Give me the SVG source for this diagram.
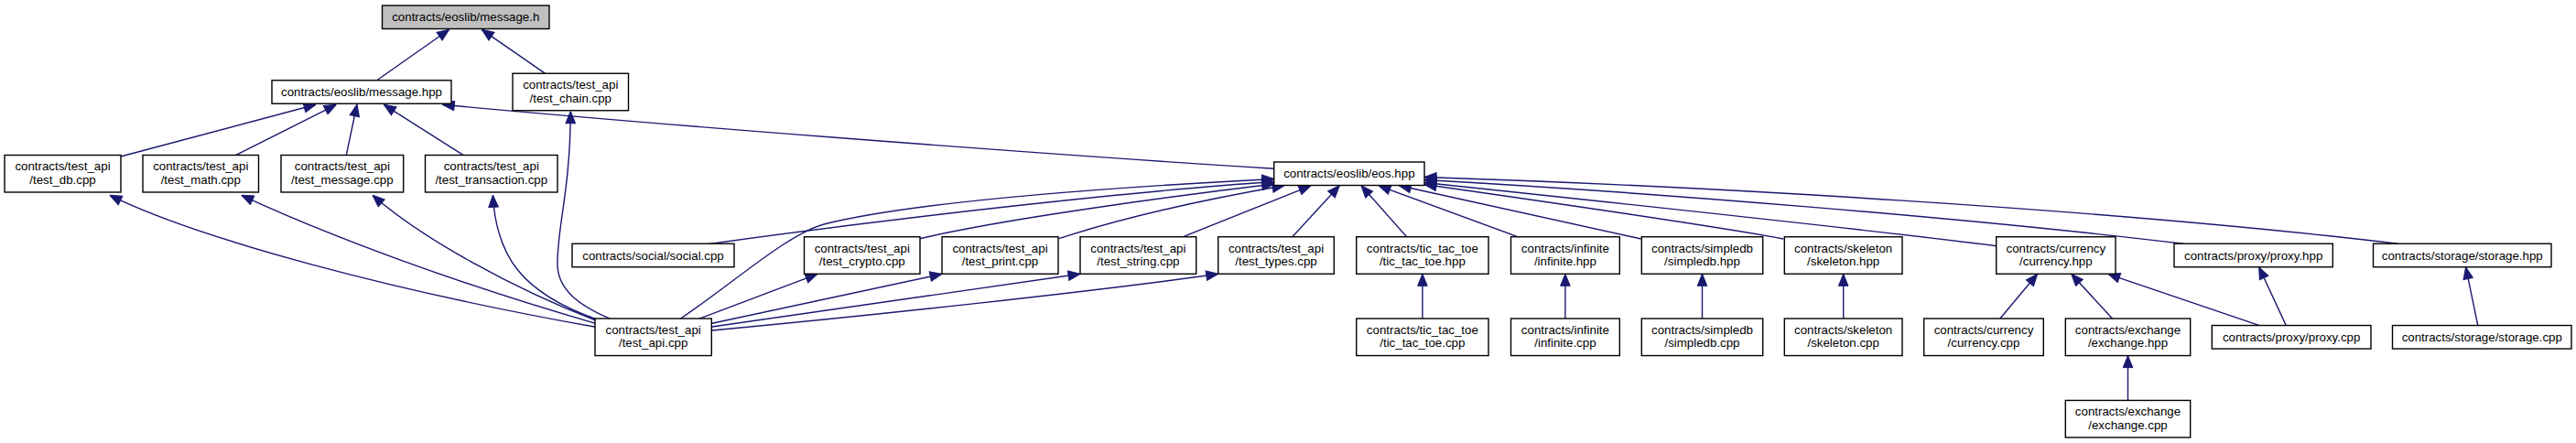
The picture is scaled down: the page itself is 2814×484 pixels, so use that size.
<svg xmlns="http://www.w3.org/2000/svg" width="2814" height="484" viewBox="0 0 2814 484">
<style>
.n rect{fill:#fff;stroke:#000;stroke-width:1.4}
.n text{font-family:"Liberation Sans",Arial,Helvetica,sans-serif;font-size:13.3px;text-anchor:middle;fill:#000}
.e path{fill:none;stroke:#191970;stroke-width:1.4;marker-start:url(#ah)}
</style>
<defs>
<marker id="ah" markerUnits="userSpaceOnUse" viewBox="0 -6 14 12" refX="0" refY="0" markerWidth="14" markerHeight="12" orient="auto">
<path d="M0,0 L13,-5.3 L13,5.3 Z" fill="#191970" stroke="#191970" stroke-width="1"/>
</marker>
</defs>
<rect width="2814" height="484" fill="#fff"/>
<g id="edges" class="e">
<path d="M490.7,32.3 L411.7,87.7"/>
<path d="M526.3,32.3 L595.7,80.3"/>
<path d="M345,114.3 L131.9,171"/>
<path d="M367.3,114.3 L257.8,169.3"/>
<path d="M390,114 L378.3,169.3"/>
<path d="M419.3,114.3 L506,169.3"/>
<path d="M483.3,114.3 C700,134.5 1100,166 1391.7,184.3"/>
<path d="M623.3,121.7 C623,210 608,250 609,290 C610,318 635,335 666.7,348.3"/>
<path d="M119.9,213.3 C220,262 430,318 650.5,357.3"/>
<path d="M263.8,213.3 C360,258 500,310 650.5,353.3"/>
<path d="M407,213.3 C460,260 560,315 652,350.5"/>
<path d="M538.4,213.3 C542,280 570,320 652,349"/>
<path d="M1391.7,195.5 C1150,208 980,225 900,245 C860,256 800,310 743.3,348.3"/>
<path d="M1391.7,198.5 C1250,208 1000,235 773.3,266.7"/>
<path d="M1391.7,201 C1300,212 1100,238 1005,260.7"/>
<path d="M1403,202.8 C1350,212 1250,230 1156.7,260.7"/>
<path d="M1432,202.8 L1293.3,258.3"/>
<path d="M1463.3,202.8 L1411.7,258.8"/>
<path d="M1487,202.8 L1536.7,258.8"/>
<path d="M1506,202.8 L1658.3,258.8"/>
<path d="M1528.3,202.8 L1792.7,261"/>
<path d="M1556,201.5 C1700,222 1880,248 1948.3,261"/>
<path d="M1556,199.5 C1750,220 2050,252 2180.7,268.7"/>
<path d="M1556,196.5 C1800,210 2150,238 2384.8,266.3"/>
<path d="M1556,193.5 C1850,203 2300,228 2619.6,266.3"/>
<path d="M893,299.3 L763.3,348.3"/>
<path d="M1029,299.3 L778,353.3"/>
<path d="M1180,299.3 L778,357"/>
<path d="M1330.7,299.3 C1200,318 950,345 778,361"/>
<path d="M1553.9,299.3 L1553.9,348"/>
<path d="M1709.9,299.3 L1709.9,348"/>
<path d="M1859.5,299.3 L1859.5,348"/>
<path d="M2013.7,299.3 L2013.7,348"/>
<path d="M2225.7,299.3 L2184.7,348.3"/>
<path d="M2262.7,299.3 L2307.7,348.3"/>
<path d="M2302.7,299.3 L2468.3,355.6"/>
<path d="M2467.7,291.8 L2497.3,355.6"/>
<path d="M2324.5,388.6 L2324.5,437.5"/>
<path d="M2693.6,291.8 L2706.8,355.6"/>
</g>
<g id="message_h" class="n"><rect x="417.5" y="6" width="182.5" height="25.5" style="fill:#bfbfbf"/><text x="508.75" y="23.2">contracts/eoslib/message.h</text></g>
<g id="message_hpp" class="n"><rect x="297" y="87.75" width="196" height="25.5"/><text x="395" y="105">contracts/eoslib/message.hpp</text></g>
<g id="test_chain_cpp" class="n"><rect x="560" y="80.25" width="126.5" height="40.5"/><text x="623.25" y="97">contracts/test_api</text><text x="623.25" y="111.5">/test_chain.cpp</text></g>
<g id="test_db_cpp" class="n"><rect x="5" y="169.5" width="127" height="40.5"/><text x="68.5" y="186.2">contracts/test_api</text><text x="68.5" y="200.7">/test_db.cpp</text></g>
<g id="test_math_cpp" class="n"><rect x="156" y="169.5" width="126.5" height="40.5"/><text x="219.25" y="186.2">contracts/test_api</text><text x="219.25" y="200.7">/test_math.cpp</text></g>
<g id="test_message_cpp" class="n"><rect x="307" y="169.5" width="133.7" height="40.5"/><text x="373.85" y="186.2">contracts/test_api</text><text x="373.85" y="200.7">/test_message.cpp</text></g>
<g id="test_transaction_cpp" class="n"><rect x="464.5" y="169.5" width="144.5" height="40.5"/><text x="536.75" y="186.2">contracts/test_api</text><text x="536.75" y="200.7">/test_transaction.cpp</text></g>
<g id="eos_hpp" class="n"><rect x="1391.7" y="177" width="164.3" height="25.5"/><text x="1473.85" y="194.2">contracts/eoslib/eos.hpp</text></g>
<g id="social_cpp" class="n"><rect x="625" y="266.25" width="177" height="25.5"/><text x="713.5" y="283.5">contracts/social/social.cpp</text></g>
<g id="test_crypto_cpp" class="n"><rect x="878.5" y="258.75" width="126.5" height="40.5"/><text x="941.75" y="275.5">contracts/test_api</text><text x="941.75" y="290">/test_crypto.cpp</text></g>
<g id="test_print_cpp" class="n"><rect x="1029" y="258.75" width="127" height="40.5"/><text x="1092.5" y="275.5">contracts/test_api</text><text x="1092.5" y="290">/test_print.cpp</text></g>
<g id="test_string_cpp" class="n"><rect x="1180" y="258.75" width="126.7" height="40.5"/><text x="1243.35" y="275.5">contracts/test_api</text><text x="1243.35" y="290">/test_string.cpp</text></g>
<g id="test_types_cpp" class="n"><rect x="1330.7" y="258.75" width="126.6" height="40.5"/><text x="1394" y="275.5">contracts/test_api</text><text x="1394" y="290">/test_types.cpp</text></g>
<g id="tic_tac_toe_hpp" class="n"><rect x="1481.7" y="258.75" width="144.3" height="40.5"/><text x="1553.85" y="275.5">contracts/tic_tac_toe</text><text x="1553.85" y="290">/tic_tac_toe.hpp</text></g>
<g id="infinite_hpp" class="n"><rect x="1650.5" y="258.75" width="118.8" height="40.5"/><text x="1709.9" y="275.5">contracts/infinite</text><text x="1709.9" y="290">/infinite.hpp</text></g>
<g id="simpledb_hpp" class="n"><rect x="1793.3" y="258.75" width="132.4" height="40.5"/><text x="1859.5" y="275.5">contracts/simpledb</text><text x="1859.5" y="290">/simpledb.hpp</text></g>
<g id="skeleton_hpp" class="n"><rect x="1949.3" y="258.75" width="128.7" height="40.5"/><text x="2013.65" y="275.5">contracts/skeleton</text><text x="2013.65" y="290">/skeleton.hpp</text></g>
<g id="currency_hpp" class="n"><rect x="2180.7" y="258.75" width="130.3" height="40.5"/><text x="2245.85" y="275.5">contracts/currency</text><text x="2245.85" y="290">/currency.hpp</text></g>
<g id="proxy_hpp" class="n"><rect x="2375" y="266.25" width="173.3" height="25.5"/><text x="2461.65" y="283.5">contracts/proxy/proxy.hpp</text></g>
<g id="storage_hpp" class="n"><rect x="2592.5" y="266.25" width="194.5" height="25.5"/><text x="2689.75" y="283.5">contracts/storage/storage.hpp</text></g>
<g id="test_api_cpp" class="n"><rect x="650" y="348.05" width="127.3" height="40.5"/><text x="713.65" y="364.8">contracts/test_api</text><text x="713.65" y="379.3">/test_api.cpp</text></g>
<g id="tic_tac_toe_cpp" class="n"><rect x="1481.7" y="348.05" width="144.3" height="40.5"/><text x="1553.85" y="364.8">contracts/tic_tac_toe</text><text x="1553.85" y="379.3">/tic_tac_toe.cpp</text></g>
<g id="infinite_cpp" class="n"><rect x="1650.5" y="348.05" width="118.8" height="40.5"/><text x="1709.9" y="364.8">contracts/infinite</text><text x="1709.9" y="379.3">/infinite.cpp</text></g>
<g id="simpledb_cpp" class="n"><rect x="1793.3" y="348.05" width="132.4" height="40.5"/><text x="1859.5" y="364.8">contracts/simpledb</text><text x="1859.5" y="379.3">/simpledb.cpp</text></g>
<g id="skeleton_cpp" class="n"><rect x="1949.3" y="348.05" width="128.7" height="40.5"/><text x="2013.65" y="364.8">contracts/skeleton</text><text x="2013.65" y="379.3">/skeleton.cpp</text></g>
<g id="currency_cpp" class="n"><rect x="2101.7" y="348.05" width="130.6" height="40.5"/><text x="2167" y="364.8">contracts/currency</text><text x="2167" y="379.3">/currency.cpp</text></g>
<g id="exchange_hpp" class="n"><rect x="2256.3" y="348.05" width="136.4" height="40.5"/><text x="2324.5" y="364.8">contracts/exchange</text><text x="2324.5" y="379.3">/exchange.hpp</text></g>
<g id="proxy_cpp" class="n"><rect x="2416.3" y="355.55" width="173.7" height="25.5"/><text x="2503.15" y="372.8">contracts/proxy/proxy.cpp</text></g>
<g id="storage_cpp" class="n"><rect x="2613.5" y="355.55" width="195.5" height="25.5"/><text x="2711.25" y="372.8">contracts/storage/storage.cpp</text></g>
<g id="exchange_cpp" class="n"><rect x="2256.3" y="437.45" width="136.4" height="40.5"/><text x="2324.5" y="454.2">contracts/exchange</text><text x="2324.5" y="468.7">/exchange.cpp</text></g>
</svg>
